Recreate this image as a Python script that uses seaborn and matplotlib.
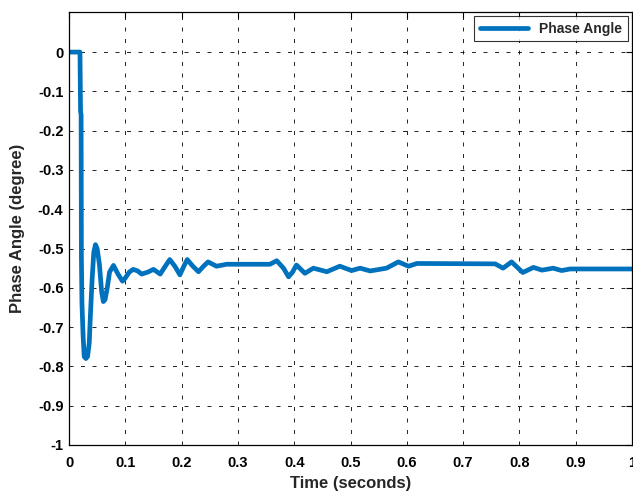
import numpy as np
import pandas as pd
import matplotlib
matplotlib.use("Agg")
import matplotlib.pyplot as plt
import seaborn as sns

time_s = [0, 0.0195, 0.0205, 0.0215, 0.022, 0.023, 0.025, 0.027, 0.030, 0.033,
          0.036, 0.038, 0.041, 0.044, 0.047, 0.050, 0.054, 0.058, 0.061, 0.064,
          0.068, 0.072, 0.079, 0.087, 0.095, 0.100, 0.107, 0.114, 0.122, 0.129,
          0.140, 0.150, 0.162, 0.171, 0.179, 0.188, 0.197, 0.204, 0.210, 0.220,
          0.230, 0.239, 0.247, 0.262, 0.280, 0.357, 0.369, 0.381, 0.390, 0.397,
          0.404, 0.419, 0.434, 0.458, 0.481, 0.502, 0.517, 0.535, 0.564, 0.585,
          0.603, 0.618, 0.757, 0.771, 0.786, 0.806, 0.825, 0.840, 0.860, 0.875,
          0.890, 1.0]
phase_angle = [0, 0, -0.15, -0.16, -0.52, -0.64, -0.72, -0.775, -0.78, -0.775,
               -0.74, -0.67, -0.58, -0.51, -0.49, -0.50, -0.54, -0.61, -0.635, -0.63,
               -0.60, -0.56, -0.543, -0.565, -0.583, -0.575, -0.56, -0.553, -0.557, -0.565,
               -0.56, -0.553, -0.565, -0.545, -0.528, -0.545, -0.567, -0.545, -0.528, -0.545,
               -0.559, -0.545, -0.534, -0.545, -0.540, -0.540, -0.531, -0.550, -0.572, -0.560,
               -0.542, -0.563, -0.550, -0.559, -0.545, -0.556, -0.550, -0.557, -0.550, -0.534,
               -0.545, -0.538, -0.539, -0.550, -0.534, -0.561, -0.548, -0.555, -0.550, -0.556,
               -0.552, -0.552]
x_ticks = [0, 0.1, 0.2, 0.3, 0.4, 0.5, 0.6, 0.7, 0.8, 0.9, 1]
x_labels = ["0", "0.1", "0.2", "0.3", "0.4", "0.5", "0.6", "0.7", "0.8", "0.9", "1"]
y_ticks = [-1, -0.9, -0.8, -0.7, -0.6, -0.5, -0.4, -0.3, -0.2, -0.1, 0]
y_labels = ["-1", "-0.9", "-0.8", "-0.7", "-0.6", "-0.5", "-0.4", "-0.3", "-0.2", "-0.1", "0"]

df = pd.DataFrame({"Time": time_s, "Phase": phase_angle, "series": "Phase Angle"})

sns.set_style("white")
plt.rcParams["font.family"] = ["Liberation Sans", "DejaVu Sans"]
plt.rcParams["font.weight"] = "bold"
plt.rcParams["axes.unicode_minus"] = False

fig = plt.figure(figsize=(6.33, 4.93), dpi=100)
ax = fig.add_axes([69/633, 48/493, 563/633, 433/493])
sns.lineplot(data=df, x="Time", y="Phase", hue="series", palette=["#0072BD"],
             linewidth=3.4, sort=False, ax=ax)

ax.set_xlim(0, 1)
ax.set_ylim(-1, 0.102)
ax.set_xticks(x_ticks)
ax.set_xticklabels(x_labels)
ax.set_yticks(y_ticks)
ax.set_yticklabels(y_labels)
ax.grid(True, color="black", linestyle=(0, (4.8, 9.0)), linewidth=0.6)
ax.tick_params(direction="in", length=4, width=0.8, top=True, right=True,
               labelsize=10.5, colors="black")
ax.tick_params(axis="x", pad=8)
ax.tick_params(axis="y", pad=4)
for lab in ax.get_xticklabels() + ax.get_yticklabels():
    lab.set_fontweight("bold")
for sp in ax.spines.values():
    sp.set_visible(True)
    sp.set_color("black")
    sp.set_linewidth(0.9)
ax.set_xlabel("Time (seconds)", fontsize=12, fontweight="bold", labelpad=4.5)
ax.set_ylabel("Phase Angle (degree)", fontsize=12, fontweight="bold", labelpad=9)

leg = ax.legend(loc="upper right", frameon=True, fancybox=False, fontsize=10,
                handlelength=3.5, borderaxespad=0.3)
leg.get_frame().set_edgecolor("black")
leg.get_frame().set_linewidth(0.8)
for t in leg.get_texts():
    t.set_fontweight("bold")
leg.get_lines()[0].set_linewidth(3.4)

fig.savefig("out.png", dpi=100)
